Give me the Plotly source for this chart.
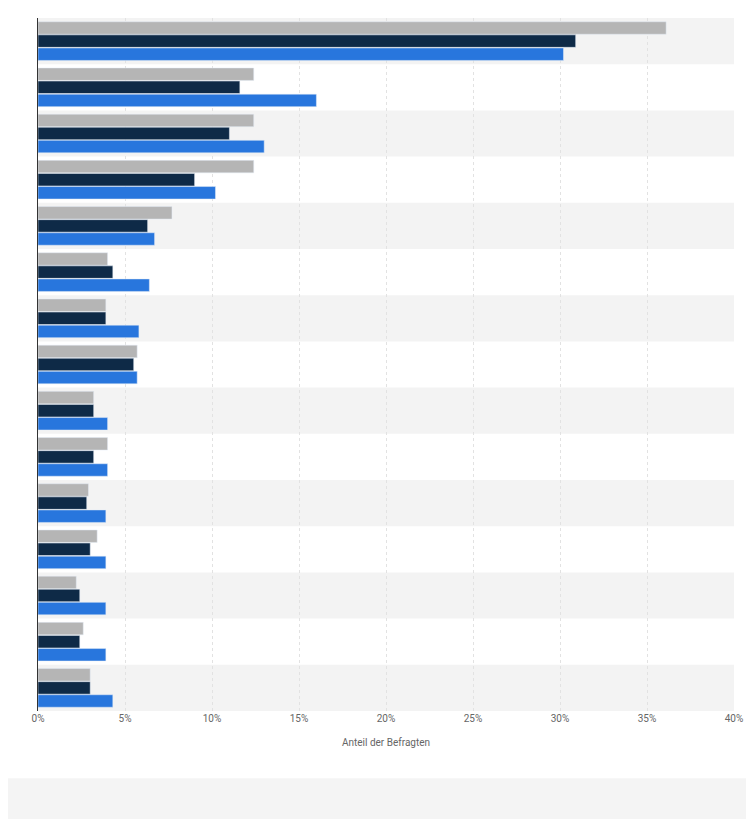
import plotly.graph_objects as go

categories = [str(i) for i in range(1, 16)]
series_gray = [36.1, 12.4, 12.4, 12.4, 7.7, 4.0, 3.9, 5.7, 3.2, 4.0, 2.9, 3.4, 2.2, 2.6, 3.0]
series_dark = [30.9, 11.6, 11.0, 9.0, 6.3, 4.3, 3.9, 5.5, 3.2, 3.2, 2.8, 3.0, 2.4, 2.4, 3.0]
series_blue = [30.2, 16.0, 13.0, 10.2, 6.7, 6.4, 5.8, 5.7, 4.0, 4.0, 3.9, 3.9, 3.9, 3.9, 4.3]
x_ticks = [0, 5, 10, 15, 20, 25, 30, 35, 40]

fig = go.Figure()
for name, vals, col in [("A", series_gray, "#b5b5b5"),
                        ("B", series_dark, "#0e2a47"),
                        ("C", series_blue, "#2876dd")]:
    fig.add_trace(go.Bar(y=categories, x=vals, name=name, orientation="h",
                         marker_color=col, width=0.27))

# alternating row bands
for i in range(len(categories)):
    if i % 2 == 0:
        fig.add_shape(type="rect", xref="paper", yref="y", x0=0, x1=1,
                      y0=i - 0.5, y1=i + 0.5, fillcolor="#f3f3f3",
                      line_width=0, layer="below")
# gray strip at bottom of page
fig.add_shape(type="rect", xref="paper", yref="paper", x0=-0.05, x1=1.05,
              y0=-0.17, y1=-0.097, fillcolor="#f4f4f4", line_width=0, layer="below")

fig.update_layout(
    width=754, height=819,
    margin=dict(l=30, r=28, t=10, b=116),
    paper_bgcolor="white", plot_bgcolor="white",
    showlegend=False, barmode="group", bargap=0.15, bargroupgap=0,
    font=dict(family="Roboto, Arial", size=10, color="#666"),
    xaxis=dict(range=[0, 40], tickvals=x_ticks, automargin=False,
               ticktext=[f"{v}%" for v in x_ticks],
               showgrid=True, gridcolor="#e2e2e2", griddash="3px,3px",
               zeroline=False, title=dict(text="Anteil der Befragten",
                                          font=dict(size=10, color="#666"))),
    yaxis=dict(autorange="reversed", showticklabels=False, showgrid=False,
               automargin=False,
               showline=True, linecolor="#333", linewidth=1,
               categoryorder="array", categoryarray=categories),
)

fig.write_html("out.html")
